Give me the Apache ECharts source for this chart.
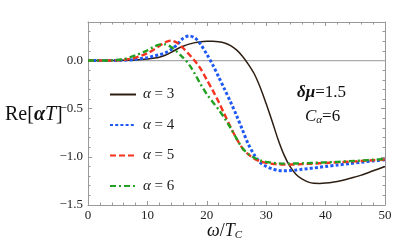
<!DOCTYPE html>
<html><head><meta charset="utf-8">
<script src="https://cdn.jsdelivr.net/npm/echarts@6/dist/echarts.min.js"></script>
<style>html,body{margin:0;padding:0;background:#fff}#c{width:415px;height:250px}</style>
</head><body><div id="c"></div>
<script>
const xs = [0,2,4,6,8,10,11,12,13,14,15,16,17,18,19,20,21,22,23,24,25,26,27,28,29,30,31,32,33,34,35,36,37,38,39,40,42,44,46,48,50];
const alpha3 = [0,0,0,0.002,0.006,0.015,0.024,0.035,0.055,0.085,0.12,0.148,0.17,0.186,0.195,0.199,0.2,0.196,0.182,0.155,0.11,0.045,-0.04,-0.14,-0.28,-0.45,-0.63,-0.82,-0.98,-1.1,-1.18,-1.23,-1.26,-1.275,-1.276,-1.272,-1.255,-1.225,-1.19,-1.145,-1.1];
const alpha4 = [0,0,0,0.003,0.012,0.03,0.045,0.06,0.08,0.115,0.165,0.23,0.255,0.235,0.165,0.065,-0.045,-0.17,-0.3,-0.43,-0.57,-0.72,-0.87,-0.98,-1.06,-1.1,-1.125,-1.14,-1.145,-1.142,-1.137,-1.13,-1.123,-1.116,-1.108,-1.1,-1.085,-1.07,-1.056,-1.043,-1.03];
const alpha5 = [0,0,0.001,0.008,0.03,0.075,0.11,0.15,0.19,0.207,0.185,0.13,0.065,-0.005,-0.09,-0.2,-0.31,-0.43,-0.56,-0.69,-0.81,-0.91,-0.975,-1.02,-1.048,-1.063,-1.072,-1.077,-1.08,-1.08,-1.078,-1.076,-1.073,-1.07,-1.067,-1.064,-1.057,-1.05,-1.043,-1.035,-1.027];
const alpha6 = [0,0,0.002,0.015,0.055,0.105,0.14,0.165,0.168,0.14,0.09,0.03,-0.04,-0.14,-0.25,-0.35,-0.43,-0.51,-0.6,-0.7,-0.81,-0.91,-0.97,-1.01,-1.038,-1.053,-1.062,-1.067,-1.07,-1.07,-1.069,-1.067,-1.065,-1.062,-1.06,-1.057,-1.052,-1.045,-1.038,-1.03,-1.022];
const seriesNames = ['α = 3','α = 4','α = 5','α = 6'];
const xTicks = [0,10,20,30,40,50];
const yTicks = [-1.5,-1.0,-0.5,0.0];

const F = "'Liberation Serif', serif";
const frame = '#999';
function pair(arr){ return xs.map((x,i)=>[x,arr[i]]); }
const chart = echarts.init(document.getElementById('c'), null, {renderer:'canvas'});
const axX = (pos, show) => ({
  type:'value', position:pos, min:0, max:50, interval:10,
  axisLine:{show:true, onZero:false, lineStyle:{color:frame, width:1}},
  axisTick:{show:true, inside:true, length:4, lineStyle:{color:frame}},
  minorTick:{show:true, splitNumber:5, length:2.5, lineStyle:{color:frame}},
  splitLine:{show:false},
  axisLabel:{show:show, fontFamily:F, fontSize:13, color:'#222', margin:4,
    formatter:v=> xTicks.includes(v) ? String(v) : ''}
});
const axY = (pos, show) => ({
  type:'value', position:pos, min:-1.5, max:0.4, interval:0.5,
  axisLine:{show:true, onZero:false, lineStyle:{color:frame, width:1}},
  axisTick:{show:true, inside:true, length:4, lineStyle:{color:frame}},
  minorTick:{show:true, splitNumber:5, length:2.5, lineStyle:{color:frame}},
  splitLine:{show:false},
  axisLabel:{show:show, fontFamily:F, fontSize:13, color:'#222', margin:5, showMaxLabel:false,
    formatter:v=> yTicks.some(t=>Math.abs(t-v)<1e-9) ? (v<0?'\u2212':'')+Math.abs(v).toFixed(1) : ''}
});
const legendRich = {a:{fontFamily:F, fontStyle:'italic', fontSize:15, color:'#222'}, n:{fontFamily:F, fontSize:15, color:'#222'}};
const colors = ['#2e1e12','#1f5af5','#f5321e','#22a022'];
chart.setOption({
  animation:false,
  color:colors,
  grid:{left:88, right:30, top:22, bottom:45},
  xAxis:[axX('bottom', true), axX('top', false)],
  yAxis:[axY('left', true), axY('right', false)],
  legend:{
    orient:'vertical', left:104, top:82, itemWidth:26, itemHeight:14, itemGap:15.5,
    data:seriesNames,
    itemStyle:{opacity:0},
    formatter:n=>'{a|α}{n| = '+n.split('= ')[1]+'}',
    textStyle:{rich:legendRich, padding:[0,0,0,2]}
  },
  series:[
    {type:'line', name:'zero', data:[[0,0],[50,0]], symbol:'none', silent:true, z:1,
     lineStyle:{color:'#aaa', width:1.3}},
    {type:'line', name:seriesNames[0], data:pair(alpha3), symbol:'none', smooth:0.3, z:2,
     itemStyle:{color:colors[0]}, lineStyle:{color:colors[0], width:1.5, type:'solid'}},
    {type:'line', name:seriesNames[1], data:pair(alpha4), symbol:'none', smooth:0.3, z:3,
     itemStyle:{color:colors[1]}, lineStyle:{color:colors[1], width:3, type:[3,2.2]}},
    {type:'line', name:seriesNames[2], data:pair(alpha5), symbol:'none', smooth:0.3, z:4,
     itemStyle:{color:colors[2]}, lineStyle:{color:colors[2], width:2.4, type:[6,3]}},
    {type:'line', name:seriesNames[3], data:pair(alpha6), symbol:'none', smooth:0.3, z:5,
     itemStyle:{color:colors[3]}, lineStyle:{color:colors[3], width:2.4, type:[6,3,2,3]}}
  ],
  graphic:[
    {type:'text', left:5, top:105, style:{
      text:'{n|Re[}{a|α}{t|T}{n|]}',
      rich:{n:{fontFamily:F, fontSize:20, fill:'#111'}, a:{fontFamily:F, fontSize:20, fontStyle:'italic', fontWeight:'bold', fill:'#111'}, t:{fontFamily:F, fontSize:20, fontStyle:'italic', fill:'#111'}}}},
    {type:'text', left:297, top:84, style:{
      text:'{b|δμ}{n|=1.5}',
      rich:{b:{fontFamily:F, fontSize:17, fontStyle:'italic', fontWeight:'bold', fill:'#111'}, n:{fontFamily:F, fontSize:17, fill:'#111'}}}},
    {type:'text', left:305, top:108, style:{
      text:'{i|C}{s|α}{n|=6}',
      rich:{i:{fontFamily:F, fontSize:17, fontStyle:'italic', fill:'#111'}, s:{fontFamily:F, fontSize:11, fontStyle:'italic', fill:'#111', padding:[8,0,0,0]}, n:{fontFamily:F, fontSize:17, fill:'#111'}}}},
    {type:'text', left:207, top:222, style:{
      text:'{i|ω}{n|/}{i|T}{s|C}',
      rich:{i:{fontFamily:F, fontSize:18, fontStyle:'italic', fill:'#111'}, n:{fontFamily:F, fontSize:18, fill:'#111'}, s:{fontFamily:F, fontSize:11, fontStyle:'italic', fill:'#111', padding:[8,0,0,0]}}}}
  ]
});
</script></body></html>
